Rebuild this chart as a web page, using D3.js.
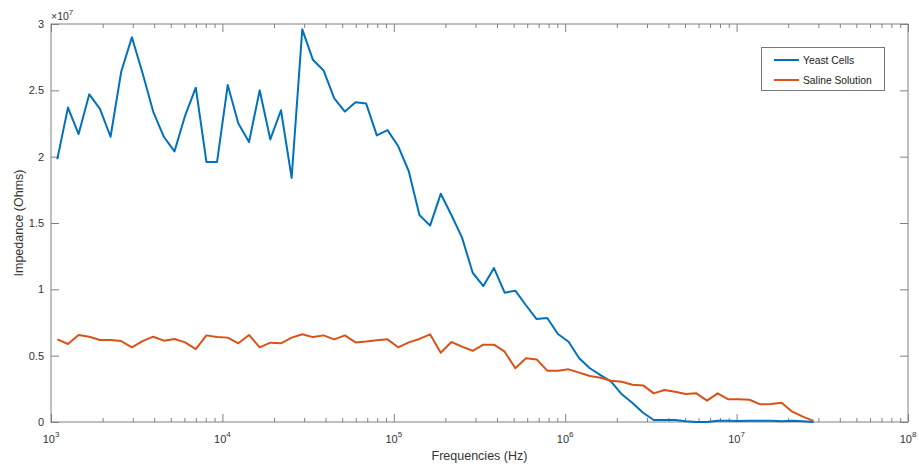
<!DOCTYPE html>
<html>
<head>
<meta charset="utf-8">
<style>
     body {
          margin: 0;
          font-family: "Liberation Sans", Arial, Helvetica, sans-serif;
          background: white;
     }
     .tick-label {
          font-size: 11px;
          fill: #333;
     }
     .axis-title {
          font-size: 12.5px;
          fill: #333;
          text-anchor: middle;
     }
     .legend-text {
          font-size: 10.3px;
          fill: #222;
     }
     .series {
          fill: none;
          stroke-width: 2;
          stroke-linejoin: round;
     }
</style>
</head>
<body>
<script src="https://d3js.org/d3.v7.min.js"></script>
<script>

     // frequencies of the sweep (Hz)
     var freqs = [1088, 1256, 1449, 1672, 1930, 2226, 2568, 2964, 3420, 3946,
          4553, 5253, 6062, 6994, 8070, 9309, 10740, 12392, 14300, 16501,
          19037, 21966, 25346, 29242, 33745, 38934, 44923, 51834, 59807, 69007,
          79616, 91864, 106000, 122300, 141100, 162800, 187900, 216800, 250100, 288600,
          333000, 384200, 443400, 511600, 590200, 681000, 785800, 906800, 1046000, 1207000,
          1393000, 1607000, 1854000, 2139000, 2469000, 2848000, 3286000, 3792000, 4375000, 5048000,
          5825000, 6721000, 7755000, 8948000, 10320000, 11910000, 13740000, 15860000, 18300000, 21110000,
          24360000, 28110000];

     // impedance in millions of ohms
     var yeastCells = [19.8, 23.7, 21.7, 24.7, 23.6, 21.5, 26.4, 29.0, 26.3, 23.4,
          21.5, 20.4, 23.1, 25.2, 19.6, 19.6, 25.4, 22.5, 21.1, 25.0,
          21.3, 23.5, 18.4, 29.6, 27.3, 26.5, 24.4, 23.4, 24.1, 24.0,
          21.6, 22.0, 20.8, 18.9, 15.6, 14.8, 17.2, 15.6, 13.9, 11.25,
          10.25, 11.6, 9.75, 9.9, 8.8, 7.76, 7.84, 6.63, 6.05, 4.8,
          4.05, 3.54, 3.04, 2.09, 1.43, 0.7, 0.15, 0.15, 0.15, 0.05,
          0.0, 0.0, 0.1, 0.1, 0.07, 0.1, 0.1, 0.1, 0.05, 0.1,
          0.05, 0.0];

     var salineSolution = [6.23, 5.88, 6.56, 6.43, 6.18, 6.18, 6.1, 5.63, 6.1, 6.43,
          6.13, 6.26, 6.0, 5.5, 6.53, 6.4, 6.36, 5.93, 6.56, 5.63,
          5.98, 5.93, 6.36, 6.61, 6.4, 6.53, 6.23, 6.53, 6.0, 6.07,
          6.16, 6.23, 5.63, 6.0, 6.26, 6.61, 5.22, 6.03, 5.68, 5.37,
          5.83, 5.83, 5.3, 4.05, 4.8, 4.72, 3.87, 3.87, 3.97, 3.72,
          3.47, 3.34, 3.11, 3.04, 2.81, 2.76, 2.16, 2.41, 2.28, 2.11,
          2.16, 1.61, 2.16, 1.71, 1.71, 1.68, 1.33, 1.36, 1.45, 0.78,
          0.4, 0.08];

     var seriesNames = ["Yeast Cells", "Saline Solution"];
     var seriesColors = ["#0072BD", "#D95319"];

     var yTicks = [0, 0.5, 1, 1.5, 2, 2.5, 3];
     var xDecades = [3, 4, 5, 6, 7, 8];

     var width = 919, height = 465;
     var plot = {left: 51, right: 908, top: 24, bottom: 422};
     var axisColor = "#808080";

     var svg = d3.select("body").append("svg")
          .attr("width", width)
          .attr("height", height);

     var x = d3.scaleLog()
          .domain([1e3, 1e8])
          .range([plot.left, plot.right]);

     var y = d3.scaleLinear()
          .domain([0, 3e7])
          .range([plot.bottom, plot.top]);

     // minor + major ticks on bottom and top
     var allTicks = x.ticks();
     var majors = xDecades.map(function(d) { return Math.pow(10, d); });
     var minors = allTicks.filter(function(d) { return majors.indexOf(d) < 0; });

     function tickAxis(gen, values, size, translateY) {
          var g = svg.append("g")
               .attr("transform", "translate(0," + translateY + ")")
               .call(gen.tickValues(values).tickSize(size).tickFormat(""));
          g.select(".domain").remove();
          g.selectAll("line").attr("stroke", axisColor);
          return g;
     }

     tickAxis(d3.axisBottom(x), minors, -4, plot.bottom);
     tickAxis(d3.axisBottom(x), majors, -8, plot.bottom);
     tickAxis(d3.axisTop(x), minors, -4, plot.top);
     tickAxis(d3.axisTop(x), majors, -8, plot.top);

     var yVals = yTicks.map(function(d) { return d * 1e7; });
     var gl = svg.append("g")
          .attr("transform", "translate(" + plot.left + ",0)")
          .call(d3.axisLeft(y).tickValues(yVals).tickSize(-8).tickFormat(""));
     gl.select(".domain").remove();
     gl.selectAll("line").attr("stroke", axisColor);

     var gr = svg.append("g")
          .attr("transform", "translate(" + plot.right + ",0)")
          .call(d3.axisRight(y).tickValues(yVals).tickSize(-8).tickFormat(""));
     gr.select(".domain").remove();
     gr.selectAll("line").attr("stroke", axisColor);

     // box
     svg.append("rect")
          .attr("x", plot.left)
          .attr("y", plot.top)
          .attr("width", plot.right - plot.left)
          .attr("height", plot.bottom - plot.top)
          .attr("fill", "none")
          .attr("stroke", axisColor)
          .attr("stroke-width", 1);

     // y tick labels
     svg.selectAll(".ylab")
          .data(yTicks)
       .enter().append("text")
          .attr("class", "tick-label")
          .attr("x", plot.left - 7)
          .attr("y", function(d) { return y(d * 1e7); })
          .attr("dy", "0.36em")
          .attr("text-anchor", "end")
          .text(function(d) { return d; });

     // exponent label
     var expo = svg.append("text")
          .attr("class", "tick-label")
          .attr("x", plot.left)
          .attr("y", 20)
          .style("font-size", "10.5px");
     expo.append("tspan").text("\u00d710");
     expo.append("tspan")
          .attr("dy", -5)
          .style("font-size", "8px")
          .text("7");

     // x tick labels
     var xl = svg.selectAll(".xlab")
          .data(xDecades)
       .enter().append("text")
          .attr("class", "tick-label")
          .attr("x", function(d) { return x(Math.pow(10, d)); })
          .attr("y", 443)
          .attr("text-anchor", "middle");
     xl.append("tspan").text("10");
     xl.append("tspan")
          .attr("dy", -6)
          .style("font-size", "8px")
          .text(function(d) { return d; });

     // axis titles
     svg.append("text")
          .attr("class", "axis-title")
          .attr("x", (plot.left + plot.right) / 2)
          .attr("y", 460)
          .text("Frequencies (Hz)");

     svg.append("text")
          .attr("class", "axis-title")
          .attr("transform", "translate(23," + ((plot.top + plot.bottom) / 2) + ") rotate(-90)")
          .text("Impedance (Ohms)");

     // lines
     var line = d3.line()
          .x(function(d) { return x(d[0]); })
          .y(function(d) { return y(d[1] * 1e6); });

     var series = [yeastCells, salineSolution];

     svg.selectAll(".series")
          .data(series)
       .enter().append("path")
          .attr("class", "series")
          .attr("stroke", function(d, i) { return seriesColors[i]; })
          .attr("d", function(vals) {
               return line(vals.map(function(v, i) { return [freqs[i], v]; }));
          });

     // legend
     var legend = svg.append("g");
     legend.append("rect")
          .attr("x", 761.5)
          .attr("y", 47.5)
          .attr("width", 123)
          .attr("height", 43)
          .attr("fill", "white")
          .attr("stroke", "#777")
          .attr("stroke-width", 1);

     var items = legend.selectAll(".item")
          .data(seriesNames)
       .enter().append("g")
          .attr("transform", function(d, i) { return "translate(0," + (60 + i * 20) + ")"; });

     items.append("line")
          .attr("x1", 774)
          .attr("x2", 799)
          .attr("stroke", function(d, i) { return seriesColors[i]; })
          .attr("stroke-width", 2);

     items.append("text")
          .attr("class", "legend-text")
          .attr("x", 803)
          .attr("dy", "0.36em")
          .text(function(d) { return d; });

</script>
</body>
</html>
